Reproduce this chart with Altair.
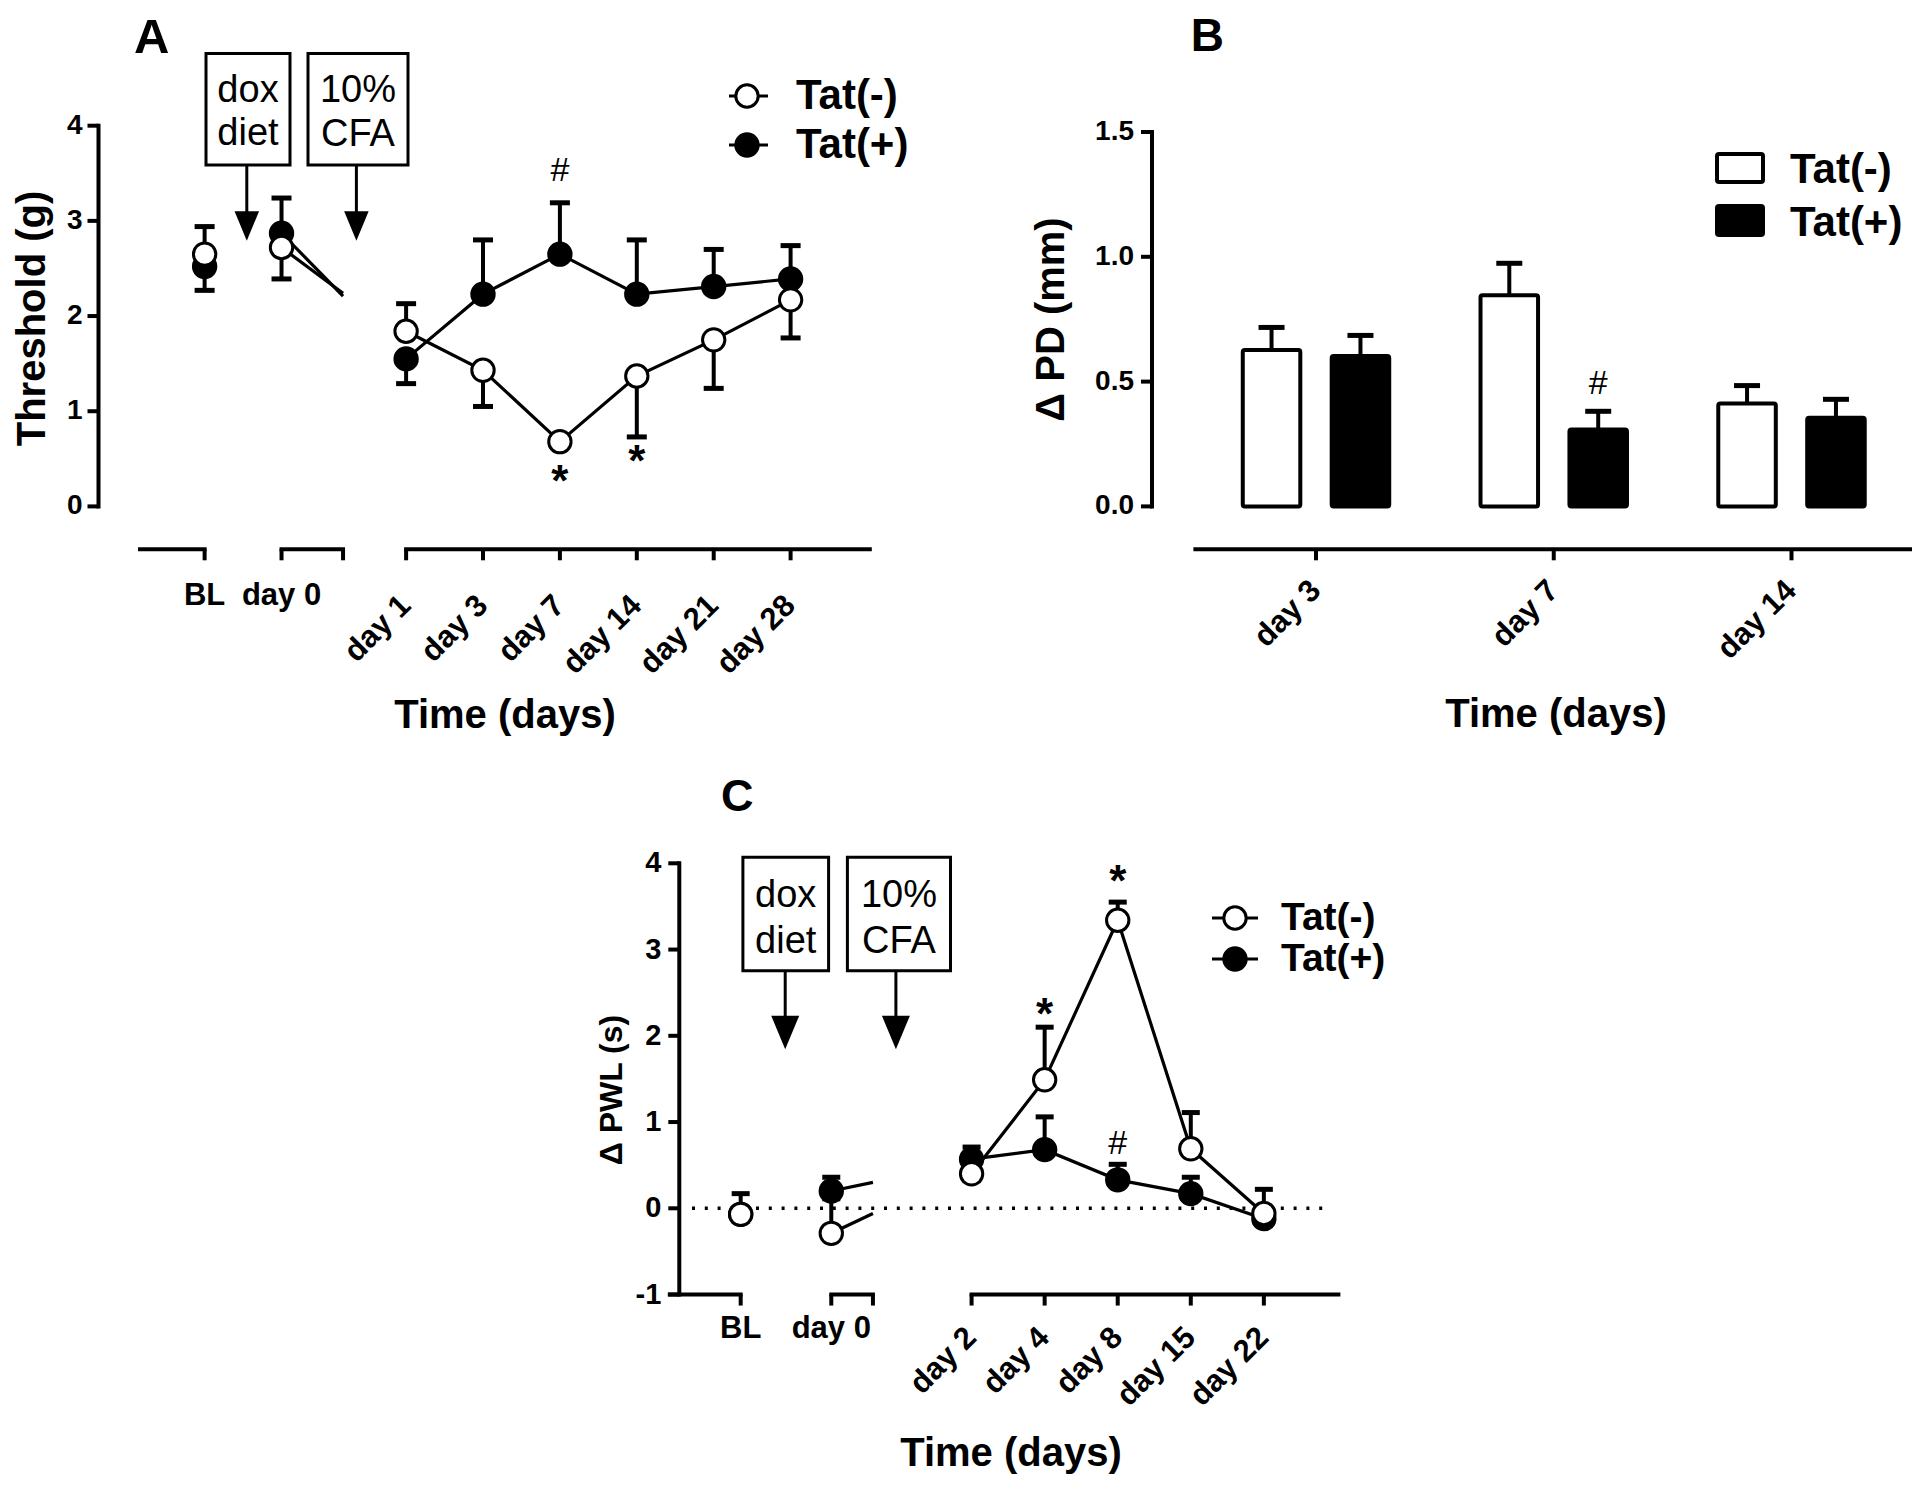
import altair as alt
import pandas as pd

FONT = "Liberation Sans, Arial, Helvetica, sans-serif"

# ------------------------------------------------------------------ data
# Panel A : von Frey threshold (g)
A_labels = ["BL", "day 0", "day 1", "day 3", "day 7", "day 14", "day 21", "day 28"]
A_neg = [2.65, 2.72, 1.84, 1.43, 0.68, 1.37, 1.75, 2.17]
A_neg_sem = [0.29, 0.33, 0.29, 0.38, 0.05, 0.64, 0.51, 0.40]
A_neg_dir = [1, -1, 1, -1, -1, -1, -1, -1]
A_plus = [2.52, 2.87, 1.55, 2.23, 2.65, 2.23, 2.31, 2.39]
A_plus_sem = [0.25, 0.37, 0.26, 0.57, 0.54, 0.57, 0.39, 0.35]
A_plus_dir = [-1, 1, -1, 1, 1, 1, 1, 1]
A_stub_end = {"Tat(-)": 2.24, "Tat(+)": 2.21}
A_yticks = [0, 1, 2, 3, 4]
A_marks = [("#", 4, 3.52), ("*", 4, 0.33), ("*", 5, 0.54)]

# Panel B : paw diameter change (mm)
B_labels = ["day 3", "day 7", "day 14"]
B_neg = [0.627, 0.846, 0.412]
B_neg_sem = [0.090, 0.128, 0.072]
B_plus = [0.603, 0.308, 0.355]
B_plus_sem = [0.082, 0.073, 0.074]
B_yticks = [0.0, 0.5, 1.0, 1.5]
B_marks = [("#", 1, 0.49)]

# Panel C : paw withdrawal latency change (s)
C_labels = ["BL", "day 0", "day 2", "day 4", "day 8", "day 15", "day 22"]
C_neg = [-0.07, -0.29, 0.40, 1.49, 3.34, 0.69, -0.06]
C_neg_sem = [0.24, 0.40, 0.08, 0.61, 0.21, 0.42, 0.28]
C_neg_dir = [1, 1, -1, 1, 1, 1, 1]
C_plus = [-0.07, 0.20, 0.57, 0.68, 0.33, 0.17, -0.12]
C_plus_sem = [0.08, 0.16, 0.14, 0.38, 0.18, 0.19, 0.08]
C_plus_dir = [-1, 1, 1, 1, 1, 1, -1]
C_stub_end = {"Tat(-)": -0.06, "Tat(+)": 0.30}
C_yticks = [-1, 0, 1, 2, 3, 4]
C_marks = [("*", 3, 2.32), ("*", 4, 3.87), ("#", 4, 0.75)]

SERIES = ["Tat(-)", "Tat(+)"]

# ------------------------------------------------------------------ layout
M = 8  # page margin


def make_panel(xdom, xpx, ydom, ypx):
    xr = [xpx[0] - M, xpx[1] - M]
    yr = [ypx[0] - M, ypx[1] - M]
    return {"xdom": xdom, "ydom": ydom, "xr": xr, "yr": yr,
            "sx": alt.Scale(domain=xdom, range=xr, nice=False, zero=False),
            "sy": alt.Scale(domain=ydom, range=yr, nice=False, zero=False)}


def vx(P, px):
    (d0, d1), (r0, r1) = P["xdom"], P["xr"]
    return d0 + (px - M - r0) * (d1 - d0) / (r1 - r0)


def vy(P, py):
    (d0, d1), (r0, r1) = P["ydom"], P["yr"]
    return d0 + (py - M - r0) * (d1 - d0) / (r1 - r0)


PA = make_panel([-4, 6], [98.5, 867.5], [0, 4], [506.4, 125.7])
PB = make_panel([-1, 3], [1078.25, 2029.25], [0, 1.5], [506.4, 132.0])
PC = make_panel([-4, 6], [679.3, 1410.0], [-1, 4], [1294.55, 863.3])

# slot positions on the broken time axes (in category steps)
A_slots = [-2.62, -1.62, 0, 1, 2, 3, 4, 5]
A_segments = [(-3.46, -2.62), (-1.62, -0.82), (0, 6.03)]
A_tickpos = [-2.62, -1.62, -0.82, 0, 1, 2, 3, 4, 5]
C_slots = [-3.16, -1.92, 0, 1, 2, 3, 4]
C_segments = [(-4.13, -3.16), (-1.92, -1.35), (0, 5.02)]
C_tickpos = [-3.16, -1.92, -1.35, 0, 1, 2, 3, 4]
B_off = 0.187      # bar offset from group centre
B_hw = 0.121       # bar half width

MSIZE = 500
layers = []


def add(P, rows, mark, props, x2=None, y2=None, **extra):
    df = pd.DataFrame(rows)
    enc = {"x": alt.X("x", type="quantitative", scale=P["sx"], axis=None),
           "y": alt.Y("y", type="quantitative", scale=P["sy"], axis=None)}
    if x2:
        enc["x2"] = alt.X2(x2)
    if y2:
        enc["y2"] = alt.Y2(y2)
    enc.update(extra)
    layers.append(getattr(alt.Chart(df), "mark_" + mark)(**props).encode(**enc))


def text(P, rows, size, bold=True, **props):
    p = dict(font=FONT, fontSize=size, fontWeight="bold" if bold else "normal", color="black")
    p.update(props)
    add(P, rows, "text", p, text=alt.Text("t:N"))


def pt(P, rows, fill, size):
    add(P, rows, "point", dict(shape="circle", filled=True, fill=fill, stroke="black",
                               strokeWidth=3, size=size, opacity=1, fillOpacity=1))


def y_axis(P, xa, ticks, lo, hi, fs, fmt, dx):
    add(P, [{"x": xa, "y": lo, "y2": hi}], "rule", dict(color="black", strokeWidth=4, strokeCap="square"), y2="y2")
    add(P, [{"x": xa, "y": t} for t in ticks], "rule",
        dict(color="black", strokeWidth=4, xOffset=-11, x2Offset=0), x2="x")
    text(P, [{"x": xa, "y": t, "t": fmt(t)} for t in ticks], fs, align="right", baseline="middle", dx=dx)


def x_axis(P, ya, segments, ticks):
    add(P, [{"x": a, "x2": b, "y": ya} for a, b in segments], "rule",
        dict(color="black", strokeWidth=4, strokeCap="square"), x2="x2")
    add(P, [{"x": t, "y": ya} for t in ticks], "rule",
        dict(color="black", strokeWidth=4, y2Offset=11), y2="y")


def x_labels(P, slots, labels, n_flat, y_flat, y_rot, fs):
    text(P, [{"x": slots[i], "y": y_flat, "t": labels[i]} for i in range(n_flat)], fs,
         align="center", baseline="middle")
    text(P, [{"x": slots[i], "y": y_rot, "t": labels[i]} for i in range(n_flat, len(labels))], fs,
         align="right", baseline="middle", angle=315)


def line_panel(P, slots, data, first_conn, stub_idx, stub_x, stub_end, cap, msize):
    for name, (vals, sems, dirs) in data.items():
        add(P, [{"x": slots[i], "y": vals[i], "s": name} for i in range(first_conn, len(vals))],
            "line", dict(color="black", strokeWidth=3.2), detail=alt.Detail("s:N"))
        add(P, [{"x": slots[stub_idx], "y": vals[stub_idx], "x2": stub_x, "y2": stub_end[name]}],
            "rule", dict(color="black", strokeWidth=3.2), x2="x2", y2="y2")
    for name, (vals, sems, dirs) in data.items():
        ends = [v + d * s for v, s, d in zip(vals, sems, dirs)]
        add(P, [{"x": x, "y": v, "y2": e} for x, v, e in zip(slots, vals, ends)], "rule",
            dict(color="black", strokeWidth=4), y2="y2")
        add(P, [{"x": x, "y": e} for x, e in zip(slots, ends)], "rule",
            dict(color="black", strokeWidth=5, xOffset=-cap, x2Offset=cap), x2="x")
    pt(P, [{"x": x, "y": v} for x, v in zip(slots, data["Tat(+)"][0])], "black", msize)
    pt(P, [{"x": x, "y": v} for x, v in zip(slots, data["Tat(-)"][0])], "white", msize)


def box_arrow(P, boxes, texts, arrows, shaft_top, shaft_bot, head_y, head_size, fs):
    for (x0, x1, y0, y1) in boxes:
        add(P, [{"x": vx(P, x0), "x2": vx(P, x1), "y": vy(P, y0), "y2": vy(P, y1)}], "rect",
            dict(fill="white", stroke="black", strokeWidth=3), x2="x2", y2="y2")
    text(P, [{"x": vx(P, x), "y": vy(P, y), "t": t} for t, x, y in texts], fs, bold=False,
         align="center", baseline="alphabetic")
    add(P, [{"x": vx(P, x), "y": vy(P, shaft_top), "y2": vy(P, shaft_bot)} for x in arrows], "rule",
        dict(color="black", strokeWidth=3), y2="y2")
    add(P, [{"x": vx(P, x), "y": vy(P, head_y)} for x in arrows], "point",
        dict(shape="M-1,-1.2L1,-1.2L0,1.2Z", filled=True, fill="black", stroke="black",
             strokeWidth=0, size=head_size, opacity=1))


def legend_circles(P, cx, lx0, lx1, ys, tx, fs, msize):
    for name, y, fill in zip(SERIES, ys, ["white", "black"]):
        add(P, [{"x": vx(P, lx0), "x2": vx(P, lx1), "y": vy(P, y)}], "rule",
            dict(color="black", strokeWidth=3.2), x2="x2")
        pt(P, [{"x": vx(P, cx), "y": vy(P, y)}], fill, msize)
        text(P, [{"x": vx(P, tx), "y": vy(P, y), "t": name}], fs, align="left", baseline="middle")


# ============================================================ Panel A
A_data = {"Tat(-)": (A_neg, A_neg_sem, A_neg_dir), "Tat(+)": (A_plus, A_plus_sem, A_plus_dir)}
box_arrow(PA, [(206, 290, 53.6, 165), (308, 408, 53.6, 165)],
          [("dox", 248, 102), ("diet", 248, 145), ("10%", 358, 102), ("CFA", 358, 146.4)],
          [246.8, 356.4], 165, 214, 226, 600, 38)
line_panel(PA, A_slots, A_data, 2, 1, A_segments[1][1], A_stub_end, 10, MSIZE)
y_axis(PA, -4, A_yticks, 0, 4, 28, lambda t: f"{t:d}", -16)
A_ax = vy(PA, 549.3)
x_axis(PA, A_ax, A_segments, A_tickpos)
x_labels(PA, A_slots, A_labels, 2, vy(PA, 596), vy(PA, 601), 31)
text(PA, [{"x": vx(PA, 505), "y": vy(PA, 728), "t": "Time (days)"}], 40, align="center", baseline="alphabetic")
text(PA, [{"x": vx(PA, 33), "y": vy(PA, 318.5), "t": "Threshold (g)"}], 40, align="center",
     baseline="middle", angle=270)
text(PA, [{"x": vx(PA, 134), "y": vy(PA, 53), "t": "A"}], 49, align="left", baseline="alphabetic")
for sym, i, v in A_marks:
    text(PA, [{"x": A_slots[i], "y": v, "t": sym}], 44 if sym == "*" else 34, bold=(sym == "*"),
         align="center", baseline="middle", dy=8 if sym == "*" else 0)
legend_circles(PA, 747, 729, 768, [96, 145], 796, 42, MSIZE)

# ============================================================ Panel B
bar_rows = []
for g, lab in enumerate(B_labels):
    bar_rows.append({"x": g - B_off - B_hw, "x2": g - B_off + B_hw, "y": 0, "y2": B_neg[g], "f": "Tat(-)"})
    bar_rows.append({"x": g + B_off - B_hw, "x2": g + B_off + B_hw, "y": 0, "y2": B_plus[g], "f": "Tat(+)"})
err_rows = []
for g in range(len(B_labels)):
    err_rows.append({"x": g - B_off, "y": B_neg[g], "y2": B_neg[g] + B_neg_sem[g]})
    err_rows.append({"x": g + B_off, "y": B_plus[g], "y2": B_plus[g] + B_plus_sem[g]})
add(PB, err_rows, "rule", dict(color="black", strokeWidth=4), y2="y2")
add(PB, [{"x": r["x"], "y": r["y2"]} for r in err_rows], "rule",
    dict(color="black", strokeWidth=5, xOffset=-13, x2Offset=13), x2="x")
add(PB, [r for r in bar_rows if r["f"] == "Tat(-)"], "rect",
    dict(fill="white", stroke="black", strokeWidth=4, cornerRadius=2), x2="x2", y2="y2")
add(PB, [r for r in bar_rows if r["f"] == "Tat(+)"], "rect",
    dict(fill="black", stroke="black", strokeWidth=4, cornerRadius=2), x2="x2", y2="y2")
B_yx = vx(PB, 1152)
y_axis(PB, B_yx, B_yticks, 0, 1.5, 28, lambda t: f"{t:.1f}", -18)
B_ax = vy(PB, 549.3)
x_axis(PB, B_ax, [(vx(PB, 1195.4), vx(PB, 1911))], list(range(len(B_labels))))
text(PB, [{"x": g, "y": vy(PB, 586), "t": lab} for g, lab in enumerate(B_labels)], 31,
     align="right", baseline="middle", angle=315)
text(PB, [{"x": vx(PB, 1556), "y": vy(PB, 727), "t": "Time (days)"}], 40, align="center", baseline="alphabetic")
text(PB, [{"x": vx(PB, 1052), "y": vy(PB, 319.5), "t": "Δ PD (mm)"}], 40, align="center",
     baseline="middle", angle=270)
text(PB, [{"x": vx(PB, 1190.7), "y": vy(PB, 51), "t": "B"}], 46, align="left", baseline="alphabetic")
for sym, g, v in B_marks:
    text(PB, [{"x": g + B_off, "y": v, "t": sym}], 34, bold=False, align="center", baseline="middle")
for name, (y0, y1), fill in zip(SERIES, [(154, 182), (206, 235)], ["white", "black"]):
    add(PB, [{"x": vx(PB, 1717), "x2": vx(PB, 1763), "y": vy(PB, y0), "y2": vy(PB, y1)}], "rect",
        dict(fill=fill, stroke="black", strokeWidth=4, cornerRadius=2), x2="x2", y2="y2")
    text(PB, [{"x": vx(PB, 1790), "y": vy(PB, (y0 + y1) / 2 + 2), "t": name}], 42, align="left",
         baseline="middle")

# ============================================================ Panel C
C_data = {"Tat(-)": (C_neg, C_neg_sem, C_neg_dir), "Tat(+)": (C_plus, C_plus_sem, C_plus_dir)}
add(PC, [{"x": vx(PC, 692), "x2": vx(PC, 1330), "y": 0}], "rule",
    dict(color="black", strokeWidth=3.5, strokeDash=[3, 9.8]), x2="x2")
box_arrow(PC, [(742.9, 828.6, 857.3, 970.7), (847.4, 950.5, 857.3, 970.7)],
          [("dox", 785.7, 906.7), ("diet", 785.7, 952.7), ("10%", 899, 906.7), ("CFA", 899, 952.7)],
          [785.2, 895.9], 970.7, 1019, 1032.5, 784, 38)
line_panel(PC, C_slots, C_data, 2, 1, C_segments[1][1], C_stub_end, 9, MSIZE)
y_axis(PC, -4, C_yticks, -1, 4, 29, lambda t: f"{t:d}", -18)
x_axis(PC, -1, C_segments, C_tickpos)
x_labels(PC, C_slots, C_labels, 2, vy(PC, 1329), vy(PC, 1333), 31)
text(PC, [{"x": vx(PC, 1011), "y": vy(PC, 1466), "t": "Time (days)"}], 40, align="center", baseline="alphabetic")
text(PC, [{"x": vx(PC, 612), "y": vy(PC, 1090), "t": "Δ PWL (s)"}], 32, align="center",
     baseline="middle", angle=270)
text(PC, [{"x": vx(PC, 721), "y": vy(PC, 811), "t": "C"}], 45, align="left", baseline="alphabetic")
for sym, i, v in C_marks:
    text(PC, [{"x": C_slots[i], "y": v, "t": sym}], 44 if sym == "*" else 34, bold=(sym == "*"),
         align="center", baseline="middle", dy=8 if sym == "*" else 0)
legend_circles(PC, 1235, 1212, 1258, [918, 959], 1281, 39, MSIZE)

chart = alt.layer(*layers).resolve_scale(x="independent", y="independent").properties(
    width=1904, height=1469, padding=0, background="white",
    autosize=alt.AutoSizeParams(type="none"),
).configure_view(stroke=None)

chart.save("out.html", embed_options={"renderer": "svg", "actions": False})
